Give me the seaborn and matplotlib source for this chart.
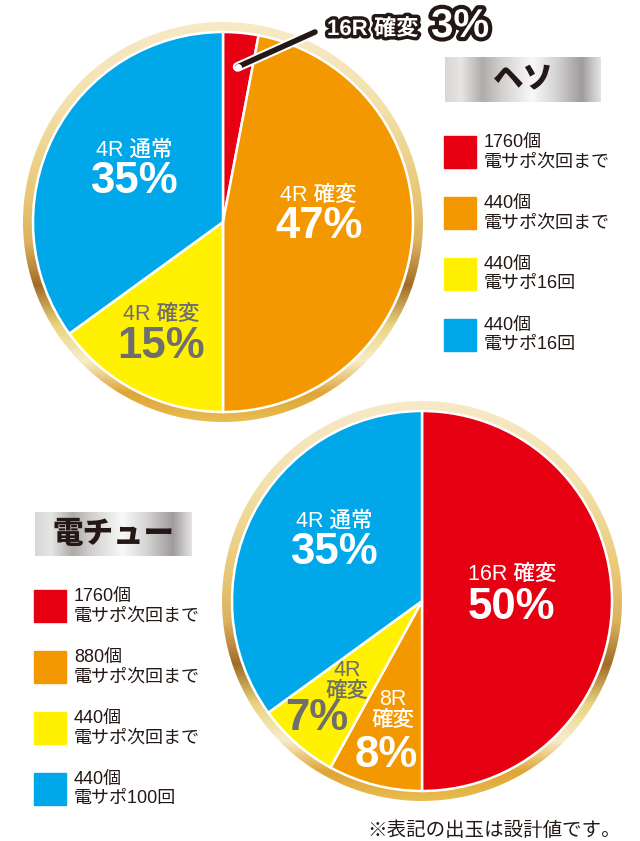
import numpy as np
import matplotlib
matplotlib.use('Agg')
import matplotlib.pyplot as plt
import matplotlib.patheffects as pe
from matplotlib.colors import LinearSegmentedColormap
from matplotlib.patches import Wedge, Rectangle
import seaborn as sns

# --- data ---
colors = ['#e60012', '#f39800', '#fff100', '#00a7e9']

heso_labels = ['16R 確変', '4R 確変', '4R 確変', '4R 通常']
heso_pcts = ['3%', '47%', '15%', '35%']
heso_values = [3, 47, 15, 35]
heso_legend = ['1760個\n電サポ次回まで', '440個\n電サポ次回まで',
               '440個\n電サポ16回', '440個\n電サポ16回']

chu_labels = ['16R 確変', '8R\n確変', '4R\n確変', '4R 通常']
chu_pcts = ['50%', '8%', '7%', '35%']
chu_values = [50, 8, 7, 35]
chu_legend = ['1760個\n電サポ次回まで', '880個\n電サポ次回まで',
              '440個\n電サポ次回まで', '440個\n電サポ100回']

note = '※表記の出玉は設計値です。'

# --- setup ---
sns.set_theme(style='white')
plt.rcParams['font.family'] = ['Liberation Sans', 'Noto Sans CJK JP', 'DejaVu Sans']

W, H = 640, 841
R_PIE, R_RING = 190, 200
DARK = '#231815'
GRAY = '#6e6e6e'

fig = plt.figure(figsize=(W / 100, H / 100), dpi=100)
bg = fig.add_axes([0, 0, 1, 1])
bg.axis('off')

gold = LinearSegmentedColormap.from_list('gold', [
    (0.0, '#f8e9c8'), (0.2, '#f3e2ac'), (0.42, '#e9c978'), (0.55, '#dcb25e'),
    (0.66, '#a26c28'), (0.76, '#e9d47e'), (0.85, '#f7edcb'), (0.93, '#dea535'),
    (1.0, '#e8bc50')])
metal = LinearSegmentedColormap.from_list('metal', [
    (0.0, '#d9d7d6'), (0.1, '#e8e6e5'), (0.24, '#aeabab'), (0.36, '#d2d0cf'),
    (0.56, '#f9f9f9'), (0.72, '#d3d1d1'), (0.88, '#9f9b9c'), (0.95, '#c9c7c7'),
    (1.0, '#e4e2e2')])


def draw_pie(cx, cy, values, labels, pcts, spots):
    ax = fig.add_axes([(cx - R_RING) / W, 1 - (cy + R_RING) / H,
                       2 * R_RING / W, 2 * R_RING / H])
    lim = R_RING / R_PIE
    # gold ring behind the pie
    ring = Wedge((0, 0), lim, 0, 360, width=lim - 1.0, transform=ax.transData)
    grad = np.linspace(0, 1, 400)[:, None]
    im = ax.imshow(grad, cmap=gold, extent=(-lim, lim, -lim, lim),
                   aspect='auto', zorder=0)
    im.set_clip_path(ring)
    ax.pie(values, colors=colors, startangle=90, counterclock=False,
           radius=1, wedgeprops=dict(edgecolor='white', linewidth=1.8))
    for i, (lab, pct) in enumerate(zip(labels, pcts)):
        if spots[i] is None:
            continue
        (lx, ly), (px, py) = spots[i]
        tc = GRAY if i == 2 else 'white'
        ax.text(lx, ly, lab, ha='center', va='center', fontsize=15.5,
                fontweight='medium', color=tc, linespacing=0.95)
        ax.text(px, py, pct, ha='center', va='center', fontsize=31.5,
                fontweight='bold', color=tc)
    ax.set_xlim(-lim, lim)
    ax.set_ylim(-lim, lim)
    ax.set_aspect('equal')
    ax.axis('off')
    return ax


def draw_header(x0, y0, w, h, text, size):
    bg.imshow(np.linspace(0, 1, 256)[None, :], cmap=metal,
              extent=(x0, x0 + w, y0 + h, y0), aspect='auto', zorder=1)
    bg.text(x0 + w / 2, y0 + h / 2 + 1, text, ha='center', va='center',
            fontsize=size, fontweight='heavy', color=DARK, zorder=2)


def draw_legend(x0, y0, labels):
    for i, (c, lab) in enumerate(zip(colors, labels)):
        y = y0 + i * 61
        bg.add_patch(Rectangle((x0, y), 32, 32, color=c, zorder=1))
        bg.text(x0 + 40, y + 16.5, lab, ha='left', va='center', fontsize=13,
                color=DARK, linespacing=1.15, zorder=2)


# top pie (ヘソ)
heso_spots = [None,
              ((0.50, 0.142), (0.505, -0.026)),
              ((-0.326, -0.489), (-0.326, -0.653)),
              ((-0.468, 0.379), (-0.468, 0.211))]
draw_pie(223, 222, heso_values, heso_labels, heso_pcts, heso_spots)

# bottom pie (電チュー)
chu_spots = [((0.474, 0.142), (0.468, -0.032)),
             ((-0.153, -0.574), (-0.189, -0.811)),
             ((-0.395, -0.421), (-0.553, -0.621)),
             ((-0.463, 0.421), (-0.463, 0.253))]
draw_pie(422, 601, chu_values, chu_labels, chu_pcts, chu_spots)

draw_header(445, 57, 156, 45, 'ヘソ', 22)
draw_header(35, 512, 157, 44, '電チュー', 22)
draw_legend(444, 136, heso_legend)
draw_legend(34, 590, chu_legend)

bg.text(621, 831, note, ha='right', va='center', fontsize=14, color=DARK)
bg.set_xlim(0, W)
bg.set_ylim(H, 0)

# callout for the small 3% wedge
fg = fig.add_axes([0, 0, 1, 1])
fg.patch.set_alpha(0)
fg.axis('off')
theta = np.deg2rad(90 - heso_values[0] / 200 * 360)
sx = 223 + 0.82 * R_PIE * np.cos(theta)
sy = 222 - 0.82 * R_PIE * np.sin(theta)
fg.plot([sx, 315], [sy, 32], color=DARK, lw=4, solid_capstyle='round',
        path_effects=[pe.Stroke(linewidth=7, foreground='white'), pe.Normal()])
fg.plot([sx], [sy], 'o', ms=4, mfc='white', mec='white')
fg.text(327, 35, heso_labels[0], ha='left', va='baseline', fontsize=16,
        fontweight='bold', color='white',
        path_effects=[pe.Stroke(linewidth=5, foreground=DARK), pe.Normal()])
fg.text(431, 37, heso_pcts[0], ha='left', va='baseline', fontsize=29,
        fontweight='bold', color='white',
        path_effects=[pe.Stroke(linewidth=6, foreground=DARK), pe.Normal()])
fg.set_xlim(0, W)
fg.set_ylim(H, 0)

fig.savefig('out.png', dpi=100)
